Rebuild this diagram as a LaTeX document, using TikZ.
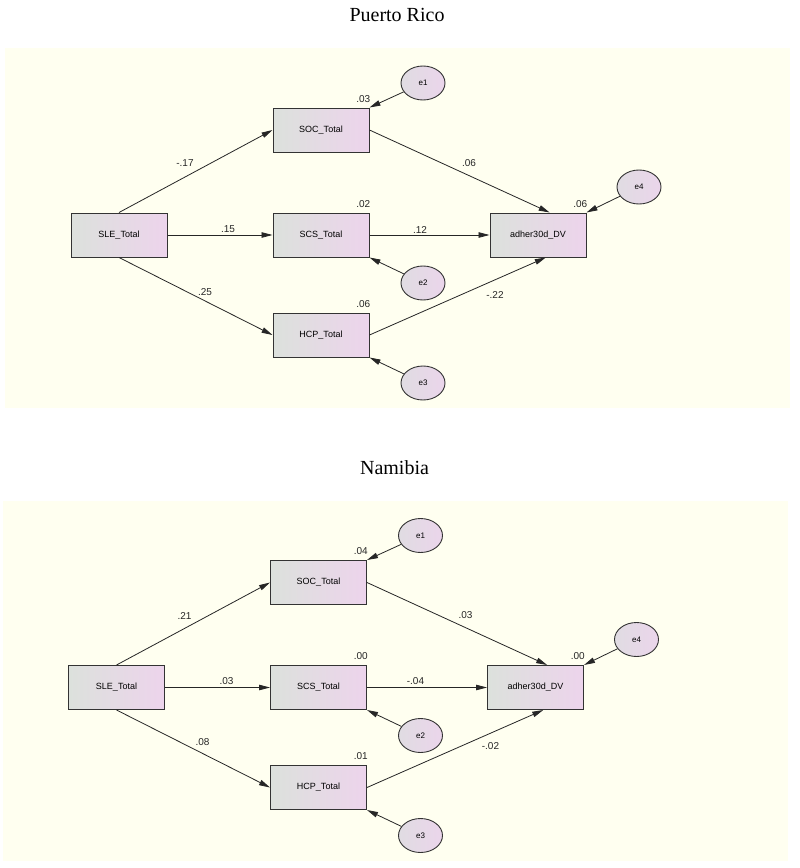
\documentclass[tikz,border=0pt]{standalone}
\usepackage{fontspec}
\setmainfont{Liberation Serif}
\setsansfont{Liberation Sans}
\usepackage{xcolor}
\definecolor{panelBg}{HTML}{FFFFF0}
\definecolor{boxGray}{HTML}{DCE1DC}
\definecolor{boxPink}{HTML}{EDD4EC}
\definecolor{errGray}{HTML}{E0DCE2}
\definecolor{errPink}{HTML}{EBD5EB}
\definecolor{lineDark}{HTML}{333333}
\usepackage{tikz}
\usetikzlibrary{
  arrows.meta,
  positioning,
  calc,
  shapes.geometric
}
\tikzset{
  obsbox/.style={
    draw=lineDark,
    line width=1pt,
    left color=boxGray,
    right color=boxPink,
    minimum width=96pt,
    minimum height=44pt,
    inner sep=2pt,
    font=\sffamily\fontsize{9}{10}\selectfont
  },
  errnode/.style={
    ellipse,
    draw=lineDark,
    line width=0.9pt,
    left color=errGray,
    right color=errPink,
    minimum width=44pt,
    minimum height=34pt,
    inner sep=0pt,
    font=\sffamily\fontsize{8}{9}\selectfont
  },
  patharrow/.style={
    -{Triangle[length=11pt,width=5.5pt]},
    line width=0.8pt,
    black!85
  },
  coeflabel/.style={font=\sffamily\fontsize{10}{11}\selectfont, inner sep=1pt, text=black!85},
  rsqlabel/.style={coeflabel, anchor=south east},
  paneltitle/.style={font=\fontsize{20}{24}\selectfont}
}

\begin{document}
\begin{tikzpicture}[x=1pt, y=-1pt]
  \useasboundingbox (0,0) rectangle (800,868);

  % Puerto Rico
  \begin{scope}
    \node[paneltitle] (pr-title) at (397,15) {Puerto Rico};
    \fill[panelBg] (5,48) rectangle (790,408);
    \node[obsbox] (pr-sle) at (119,235) {SLE\_Total};
    \node[obsbox, right=105pt of pr-sle] (pr-scs) {SCS\_Total};
    \node[obsbox, above=60pt of pr-scs] (pr-soc) {SOC\_Total};
    \node[obsbox, below=55pt of pr-scs] (pr-hcp) {HCP\_Total};
    \node[obsbox, right=120pt of pr-scs] (pr-adher) {adher30d\_DV};
    \node[errnode] (pr-e1) at (423,83) {e1};
    \node[errnode] (pr-e2) at (423,283) {e2};
    \node[errnode] (pr-e3) at (423,383) {e3};
    \node[errnode] (pr-e4) at (639,187) {e4};
    \draw[patharrow] (pr-sle.north) -- (pr-soc.west);
    \draw[patharrow] (pr-sle.east) -- (pr-scs.west);
    \draw[patharrow] (pr-sle.south) -- (pr-hcp.west);
    \draw[patharrow] (pr-soc.east) -- ($(pr-adher.north west)!0.62!(pr-adher.north east)$);
    \draw[patharrow] (pr-scs.east) -- (pr-adher.west);
    \draw[patharrow] (pr-hcp.east) -- ($(pr-adher.south west)!0.58!(pr-adher.south east)$);
    \draw[patharrow] (pr-e1) -- (pr-soc.north east);
    \draw[patharrow] (pr-e2) -- (pr-scs.south east);
    \draw[patharrow] (pr-e3) -- (pr-hcp.south east);
    \draw[patharrow] (pr-e4) -- (pr-adher.north east);
    \node[rsqlabel] (pr-r2soc) at ($(pr-soc.north east)+(2,-4)$) {.03};
    \node[rsqlabel] (pr-r2scs) at ($(pr-scs.north east)+(2,-4)$) {.02};
    \node[rsqlabel] (pr-r2hcp) at ($(pr-hcp.north east)+(2,-4)$) {.06};
    \node[rsqlabel] (pr-r2adher) at ($(pr-adher.north east)+(2,-4)$) {.06};
    \node[coeflabel] (pr-b1) at (185,163) {-.17};
    \node[coeflabel] (pr-b2) at (228,229) {.15};
    \node[coeflabel] (pr-b3) at (205,292) {.25};
    \node[coeflabel] (pr-b4) at (469,163) {.06};
    \node[coeflabel] (pr-b5) at (420,230) {.12};
    \node[coeflabel] (pr-b6) at (495,295) {-.22};
  \end{scope}

  % Namibia
  \begin{scope}[shift={(-2.5,452.5)}]
    \node[paneltitle] (na-title) at (397,15) {Namibia};
    \fill[panelBg] (5,48) rectangle (790,408);
    \node[obsbox] (na-sle) at (119,235) {SLE\_Total};
    \node[obsbox, right=105pt of na-sle] (na-scs) {SCS\_Total};
    \node[obsbox, above=60pt of na-scs] (na-soc) {SOC\_Total};
    \node[obsbox, below=55pt of na-scs] (na-hcp) {HCP\_Total};
    \node[obsbox, right=120pt of na-scs] (na-adher) {adher30d\_DV};
    \node[errnode] (na-e1) at (423,83) {e1};
    \node[errnode] (na-e2) at (423,283) {e2};
    \node[errnode] (na-e3) at (423,383) {e3};
    \node[errnode] (na-e4) at (639,187) {e4};
    \draw[patharrow] (na-sle.north) -- (na-soc.west);
    \draw[patharrow] (na-sle.east) -- (na-scs.west);
    \draw[patharrow] (na-sle.south) -- (na-hcp.west);
    \draw[patharrow] (na-soc.east) -- ($(na-adher.north west)!0.62!(na-adher.north east)$);
    \draw[patharrow] (na-scs.east) -- (na-adher.west);
    \draw[patharrow] (na-hcp.east) -- ($(na-adher.south west)!0.58!(na-adher.south east)$);
    \draw[patharrow] (na-e1) -- (na-soc.north east);
    \draw[patharrow] (na-e2) -- (na-scs.south east);
    \draw[patharrow] (na-e3) -- (na-hcp.south east);
    \draw[patharrow] (na-e4) -- (na-adher.north east);
    \node[rsqlabel] (na-r2soc) at ($(na-soc.north east)+(2,-4)$) {.04};
    \node[rsqlabel] (na-r2scs) at ($(na-scs.north east)+(2,-4)$) {.00};
    \node[rsqlabel] (na-r2hcp) at ($(na-hcp.north east)+(2,-4)$) {.01};
    \node[rsqlabel] (na-r2adher) at ($(na-adher.north east)+(2,-4)$) {.00};
    \node[coeflabel] (na-b1) at (187,163) {.21};
    \node[coeflabel] (na-b2) at (229,229) {.03};
    \node[coeflabel] (na-b3) at (205,290) {.08};
    \node[coeflabel] (na-b4) at (468,163) {.03};
    \node[coeflabel] (na-b5) at (418,229) {-.04};
    \node[coeflabel] (na-b6) at (493,294) {-.02};
  \end{scope}
\end{tikzpicture}
\end{document}
